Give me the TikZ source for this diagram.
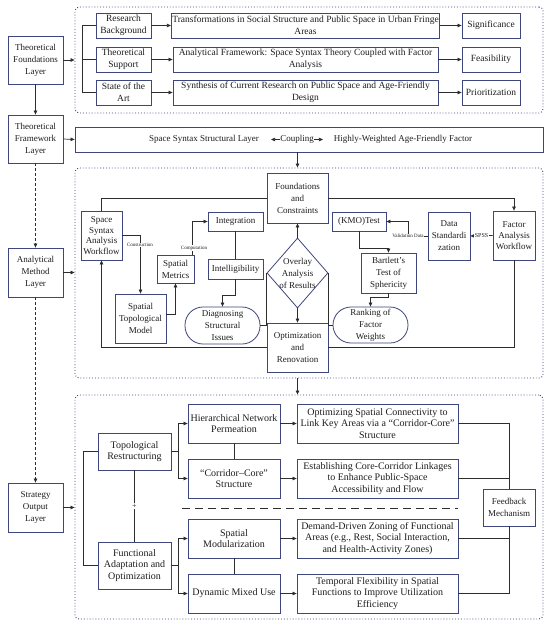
\documentclass[tikz,border=0pt]{standalone}
\usepackage{fontspec}
\setmainfont{Liberation Serif}
\usetikzlibrary{arrows.meta,shapes.geometric}
\definecolor{bc}{RGB}{62,70,125}
\definecolor{lc}{RGB}{45,45,45}
\definecolor{tc}{RGB}{30,30,30}
\newcommand\bx[7][]{%
  \pgfmathsetmacro\bxw{#5-#3}\pgfmathsetmacro\bxh{#6-#4}%
  \node[box, minimum width=\bxw pt, minimum height=\bxh pt, #1] (#2) at ({(#3+#5)/2},{(#4+#6)/2}) {#7};}
\begin{document}
\begin{tikzpicture}[x=1pt,y=-1pt,
  box/.style={draw=bc, line width=0.8pt, fill=white, align=center, inner sep=1pt, text=tc, font=\fontsize{9}{12}\selectfont},
  fa/.style={font=\fontsize{9.5}{12}\selectfont},
  fc3/.style={font=\fontsize{10}{11.7}\selectfont},
  frame/.style={draw=bc, dotted, line width=0.9pt, rounded corners=4pt},
  ln/.style={draw=lc, line width=0.7pt},
  arr/.style={ln, -{Triangle[length=4pt,width=3.5pt]}},
  tiny/.style={font=\fontsize{5}{6}\selectfont, fill=white, inner sep=0.6pt, text=tc},
  lbl/.style={font=\fontsize{9}{12}\selectfont, text=tc, inner sep=0pt}
]
\useasboundingbox (0,0) rectangle (550,629);
\fill[white] (0,0) rectangle (550,629);

% ---- frames
\node[frame, minimum width=468pt, minimum height=106pt] (F1) at (309,60) {};
\node[frame, minimum width=468pt, minimum height=210pt] (F2) at (309,273) {};
\node[frame, minimum width=468pt, minimum height=224pt] (F3) at (309,507) {};

% ---- left column
\bx{tfl}{8}{36}{63}{84}{Theoretical\\Foundations\\Layer}
\bx{tfw}{8}{115}{63}{163}{Theoretical\\Framework\\Layer}
\bx{aml}{8}{248}{63}{297}{Analytical\\Method\\Layer}
\bx{sol}{8}{483}{63}{532}{Strategy\\Output\\Layer}
\draw[arr] (tfl) -- (tfw);
\draw[arr, dash pattern=on 3pt off 2pt] (tfw) -- (aml);
\draw[arr, dash pattern=on 3pt off 2pt] (aml) -- (sol);

% ---- frame 1
\bx[fa]{rb}{96}{13}{151}{38}{Research\\Background}
\bx[fa]{ts}{96}{47}{151}{72}{Theoretical\\Support}
\bx[fa]{sa}{96}{80}{151}{105}{State of the\\Art}
\bx[fa]{m1}{173}{13}{438}{38}{Transformations in Social Structure and Public Space in Urban Fringe\\Areas}
\bx[fa]{m2}{173}{47}{438}{72}{Analytical Framework: Space Syntax Theory Coupled with Factor\\Analysis}
\bx[fa]{m3}{173}{80}{438}{105}{Synthesis of Current Research on Public Space and Age-Friendly\\Design}
\bx[fa]{r1}{462}{13}{520}{38}{Significance}
\bx[fa]{r2}{462}{47}{520}{72}{Feasibility}
\bx[fa]{r3}{462}{80}{520}{105}{Prioritization}
\draw[arr] (tfl.east) -- (tfl.east -| F1.west);
\draw[ln] (rb.west) -- ++(-13,0) |- (sa.west);
\draw[ln] (ts.west) -- ++(-13,0);
\foreach \a/\b in {rb/m1,ts/m2,sa/m3,m1/r1,m2/r2,m3/r3} \draw[arr] (\a) -- (\b);

% ---- framework box
\bx{fw}{75}{127}{543}{152}{}
\node[lbl] (ss) at (204,139.5) {Space Syntax Structural Layer};
\node[lbl] (cp) at (297,139.5) {Coupling};
\node[lbl] (hw) at (403,139.5) {Highly-Weighted Age-Friendly Factor};
\draw[arr] (cp.west) -- ++(-9,0);
\draw[arr] (cp.east) -- ++(9,0);
\draw[arr] (tfw.east) -- (fw.west);

% ---- frame 2 nodes
\bx[font=\fontsize{9}{10.5}\selectfont]{ssaw}{81}{211}{122}{260}{Space\\Syntax\\Analysis\\Workflow}
\bx{stm}{115}{294}{166}{343}{Spatial\\Topological\\Model}
\bx{sm}{157}{255}{194}{283}{Spatial\\Metrics}
\bx{int}{208}{212}{263}{231}{Integration}
\bx{intel}{208}{259}{263}{279}{Intelligibility}
\bx[rounded corners=18pt]{diag}{185}{307}{260}{344}{Diagnosing\\Structural\\Issues}
\bx{fc}{267}{173}{328}{223}{Foundations\\and\\Constraints}
\node[draw=bc, line width=0.8pt, diamond, inner sep=0pt, minimum width=61pt, minimum height=70pt] (ov) at (297.5,273) {};
\node[lbl, align=center] at (ov) {Overlay\\Analysis\\of Results};
\bx{opt}{267}{323}{328}{372}{Optimization\\and\\Renovation}
\bx{kmo}{332}{212}{386}{231}{(KMO)Test}
\bx{bart}{361}{253}{416}{293}{Bartlett’s\\Test of\\Sphericity}
\bx[rounded corners=18pt]{rank}{333}{307}{408}{343}{Ranking of\\Factor\\Weights}
\bx{ds}{428}{212}{470}{260}{Data\\Standardi\\zation}
\bx[font=\fontsize{9}{11}\selectfont]{faw}{493}{211}{535}{260}{Factor\\Analysis\\Workflow}

\draw[arr] (fw.south -| fc) -- (F2.north -| fc);
\draw[arr] (aml.east) -- (aml.east -| F2.west);
\draw[ln] (fc.west) -| (ssaw.north);
\draw[arr] (fc.east) -| (faw.north);
\draw[arr] (ssaw.east) -| (stm.north);
\node[tiny] at (140,245) {Construction};
\draw[arr] (stm.east |- 0,314) -| (sm.south);
\draw[arr] ([xshift=-2pt]sm.north east) |- (int.west);
\node[tiny] at (194,248) {Computation};
\draw[ln] (int) -- (intel);
\draw[arr] (intel.south) -- (intel.south |- 0,295) -| (diag.north);
\draw[ln] (diag.east) -| (ov.west);
\draw[ln] (rank.west) -| (ov.east);
\draw[arr] (ov.north) -- (fc.south);
\draw[arr] (ov.south) -- (opt.north);
\draw[arr] (opt.west) -| (ssaw.south);
\draw[ln] (opt.east) -| (faw.south);
\draw[arr] (faw.west) -- (ds.east) node[midway, font=\fontsize{6}{7}\selectfont, fill=white, inner sep=0.6pt, text=tc] {SPSS};
\coordinate (vd) at (408,236);
\draw[arr] (ds.west) -- (vd) |- (kmo.east);
\node[tiny] at (vd) {Validation Data};
\draw[arr] (kmo.south) -- ++(0,17) -| (bart.north);
\draw[arr] (bart.south) -- ++(0,4) -| (rank.north);

% ---- frame 3
\draw[arr] (F2.south -| fc) -- (F3.north -| fc);
\draw[arr] (sol.east) -- (sol.east -| F3.west);
\bx[fc3]{tr}{98}{433}{171}{470}{Topological\\Restructuring}
\bx[fc3]{fao}{98}{542}{171}{589}{Functional\\Adaptation and\\Optimization}
\bx[fc3]{hnp}{188}{404}{280}{443}{Hierarchical Network\\Permeation}
\bx[fc3]{ccs}{188}{459}{280}{498}{“Corridor–Core”\\Structure}
\bx[fc3]{smod}{188}{519}{280}{558}{Spatial\\Modularization}
\bx[fc3]{dmu}{188}{574}{280}{613}{Dynamic Mixed Use}
\bx[fc3]{osc}{297}{404}{458}{443}{Optimizing Spatial Connectivity to\\Link Key Areas via a “Corridor-Core”\\Structure}
\bx[fc3]{ecl}{297}{459}{458}{498}{Establishing Core-Corridor Linkages\\to Enhance Public-Space\\Accessibility and Flow}
\bx[fc3]{ddz}{297}{519}{458}{558}{Demand-Driven Zoning of Functional\\Areas (e.g., Rest, Social Interaction,\\and Health-Activity Zones)}
\bx[fc3]{tfx}{297}{574}{458}{613}{Temporal Flexibility in Spatial\\Functions to Improve Utilization\\Efficiency}
\bx{fb}{483}{489}{535}{526}{Feedback\\Mechanism}

\draw[ln] (tr.west) -- ++(-14,0) |- (fao.west);
\draw[ln] (tr) -- (fao) node[midway, fill=white, inner sep=1pt, font=\fontsize{8}{9}\selectfont, text=tc] {+};
\draw[arr] (tr.east) -- ++(7,0) |- (hnp.west);
\draw[arr] (tr.east) -- ++(7,0) |- (ccs.west);
\draw[arr] (fao.east) -- ++(7,0) |- (smod.west);
\draw[arr] (fao.east) -- ++(7,0) |- (dmu.west);
\draw[ln] (hnp) -- (ccs);
\draw[ln] (smod) -- (dmu);
\foreach \a/\b in {hnp/osc,ccs/ecl,smod/ddz,dmu/tfx} \draw[arr] (\a) -- (\b);
\coordinate (dl) at (182,508);
\coordinate (dr) at (458,508);
\draw[ln, line width=0.9pt, dash pattern=on 8pt off 5pt] (dl) -- (dr);
\draw[ln] (osc.east) -| (fb.north);
\draw[ln] (ecl.east) -| (fb.north);
\draw[ln] (ddz.east) -| (fb.south);
\draw[ln] (tfx.east) -| (fb.south);
\end{tikzpicture}
\end{document}
